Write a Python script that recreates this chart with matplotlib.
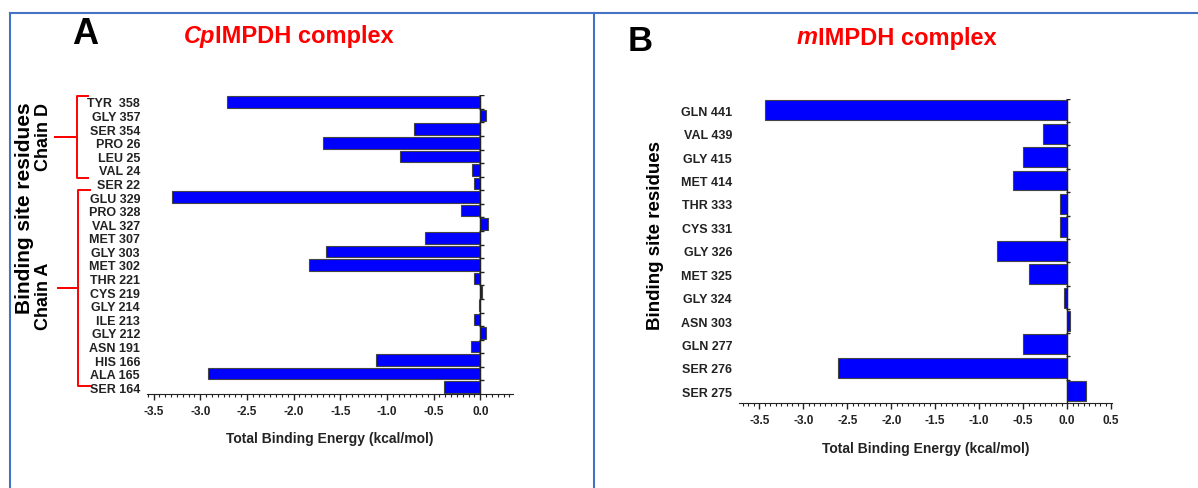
import matplotlib
matplotlib.use("Agg")
import matplotlib.pyplot as plt
from matplotlib.lines import Line2D
from matplotlib.ticker import MultipleLocator
from matplotlib.transforms import blended_transform_factory
import numpy as np

plt.rcParams['font.family'] = ['Liberation Sans', 'DejaVu Sans']
plt.rcParams['font.weight'] = 'bold'

# Panel A: CpIMPDH complex (top to bottom)
res_a = ["TYR  358", "GLY 357", "SER 354", "PRO 26", "LEU 25", "VAL 24", "SER 22",
         "GLU 329", "PRO 328", "VAL 327", "MET 307", "GLY 303", "MET 302", "THR 221",
         "CYS 219", "GLY 214", "ILE 213", "GLY 212", "ASN 191", "HIS 166", "ALA 165",
         "SER 164"]
energy_a = [-2.71, 0.06, -0.71, -1.69, -0.86, -0.09, -0.065,
            -3.30, -0.21, 0.08, -0.59, -1.65, -1.84, -0.065,
            0.02, -0.01, -0.065, 0.06, -0.10, -1.12, -2.92,
            -0.385]

# Panel B: mIMPDH complex
res_b = ["GLN 441", "VAL 439", "GLY 415", "MET 414", "THR 333", "CYS 331", "GLY 326",
         "MET 325", "GLY 324", "ASN 303", "GLN 277", "SER 276", "SER 275"]
energy_b = [-3.43, -0.28, -0.50, -0.62, -0.083, -0.083, -0.80,
            -0.43, -0.03, 0.035, -0.50, -2.61, 0.215]

xticks_a = [-3.5, -3.0, -2.5, -2.0, -1.5, -1.0, -0.5, 0.0]
xticks_b = [-3.5, -3.0, -2.5, -2.0, -1.5, -1.0, -0.5, 0.0, 0.5]

W, H = 1198, 489
fig = plt.figure(figsize=(W / 100, H / 100), dpi=100)
dark = '#222222'


def panel(rect, labels, values, xlim, xticks, labelpad):
    ax = fig.add_axes(rect)
    n = len(labels)
    pos = np.arange(n)
    ax.barh(pos, values, height=0.85, color='#0000FF', edgecolor='#444444',
            linewidth=0.8, zorder=2)
    ax.set_ylim(n - 0.5, -0.5)
    ax.set_xlim(*xlim)
    ax.set_yticks(pos)
    ax.set_yticklabels(labels, fontsize=9, fontweight='bold', color=dark)
    ax.tick_params(axis='y', length=0, pad=5)
    ax.set_xticks(xticks)
    ax.set_xticklabels([f"{t:.1f}" for t in xticks], fontsize=8.5,
                       fontweight='bold', color=dark)
    ax.xaxis.set_minor_locator(MultipleLocator(0.0625))
    ax.tick_params(axis='x', which='major', length=4, width=1, pad=4, color=dark)
    ax.tick_params(axis='x', which='minor', length=2.5, width=0.8, color=dark)
    for s in ('top', 'right', 'left'):
        ax.spines[s].set_visible(False)
    ax.spines['bottom'].set_color(dark)
    ax.set_xlabel("Total Binding Energy (kcal/mol)", fontsize=10,
                  fontweight='bold', color=dark, labelpad=labelpad)
    # zero line with small ticks at category boundaries
    ax.axvline(0, color=dark, lw=1, zorder=3)
    ax.hlines(np.arange(n) - 0.5, -0.01, 0.035, color=dark, lw=1, zorder=3)
    return ax


ax_a = panel([147 / W, (H - 395) / H, 366 / W, 298.8 / H], res_a, energy_a,
             (-3.57, 0.35), xticks_a, 10)
ax_b = panel([739 / W, (H - 404) / H, 373 / W, 304.5 / H], res_b, energy_b,
             (-3.73, 0.51), xticks_b, 11)


def brace(ax, y0, y1, x_hook, x_line, x_tip):
    tr = blended_transform_factory(fig.transFigure, ax.transData)
    ym = (y0 + y1) / 2
    xs = [x_hook / W, x_line / W, x_line / W, x_tip / W, x_line / W, x_line / W, x_hook / W]
    ys = [y0, y0, ym, ym, ym, y1, y1]
    ax.plot(xs, ys, color='red', lw=1.4, transform=tr, clip_on=False,
            solid_joinstyle='round')


brace(ax_a, -0.44, 5.6, 88, 77, 55)
brace(ax_a, 6.48, 20.9, 90, 78, 58)

fig.text(25 / W, 1 - 208 / H, "Binding site residues", rotation=90, fontsize=15,
         fontweight='bold', ha='center', va='center')
fig.text(44 / W, 1 - 137 / H, "Chain D", rotation=90, fontsize=13,
         fontweight='bold', ha='center', va='center')
fig.text(44 / W, 1 - 296 / H, "Chain A", rotation=90, fontsize=13,
         fontweight='bold', ha='center', va='center')
fig.text(655 / W, 1 - 236 / H, "Binding site residues", rotation=90, fontsize=13.5,
         fontweight='bold', ha='center', va='center')

# panel letters
fig.text(85 / W, 1 - 35 / H, "A", fontsize=26, fontweight='bold', ha='center', va='center')
fig.text(640 / W, 1 - 42 / H, "B", fontsize=25, fontweight='bold', ha='center', va='center')

# titles: italic prefix + bold rest
for x0, yc, pre in [(184, 36, "Cp"), (797, 38, "m")]:
    t = fig.text(x0 / W, 1 - yc / H, pre, fontsize=17, fontweight='bold',
                 style='italic', color='red', ha='left', va='center')
    plt.annotate("IMPDH complex", xy=(1, 0.5), xycoords=t, fontsize=17,
                 fontweight='bold', color='red', ha='left', va='center')

# panel frame lines
blue = '#4472C4'
ytop = 1 - 13.8 / H
fig.add_artist(Line2D([10 / W, 1], [ytop, ytop], color=blue, lw=1.5))
fig.add_artist(Line2D([10 / W, 10 / W], [0, ytop], color=blue, lw=1.5))
fig.add_artist(Line2D([594 / W, 594 / W], [0, ytop], color=blue, lw=1.5))

fig.savefig("out.png", dpi=100)
